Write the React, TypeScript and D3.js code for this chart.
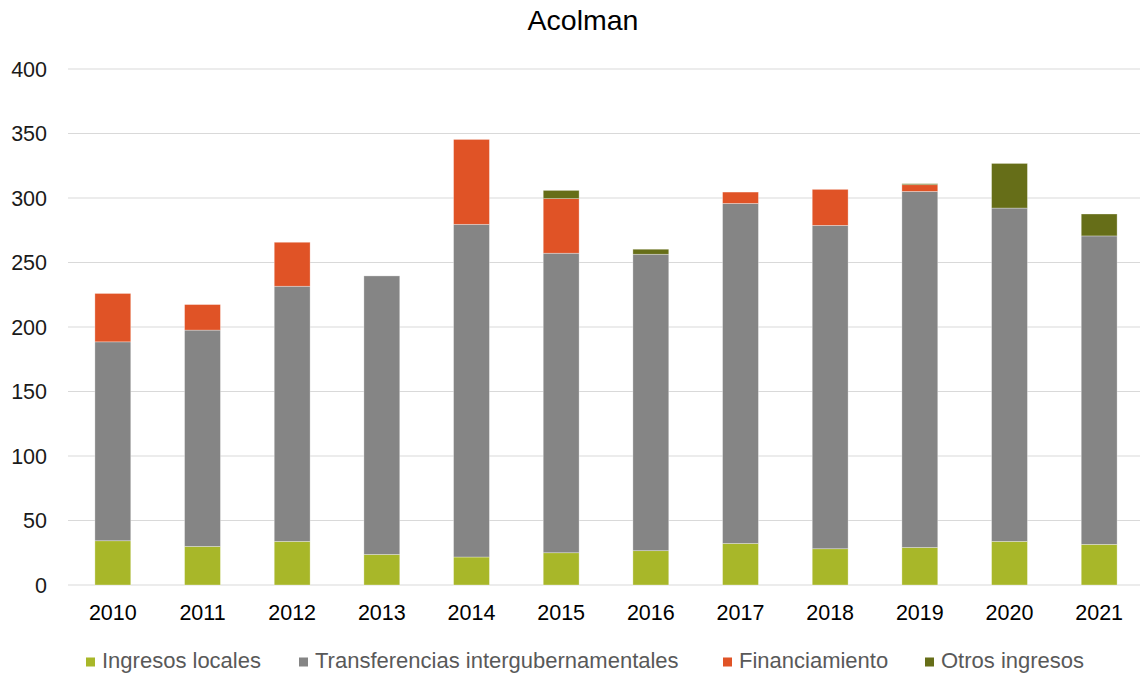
import React from "react";
import * as d3 from "d3";

const years = ["2010","2011","2012","2013","2014","2015","2016","2017","2018","2019","2020","2021"];
const ingresosLocales = [34.3, 29.9, 33.8, 23.7, 21.7, 25.0, 26.6, 32.2, 28.1, 29.1, 33.8, 31.5];
const transferencias = [154.2, 167.7, 197.8, 215.9, 257.9, 232.2, 229.8, 263.6, 250.7, 276.0, 258.4, 239.1];
const financiamiento = [37.5, 19.8, 34.1, 0, 65.8, 42.3, 0, 8.8, 27.9, 5.2, 0, 0];
const otrosIngresos = [0, 0, 0, 0, 0, 6.4, 3.9, 0, 0, 0.8, 34.6, 17.0];
const yTicks = [0, 50, 100, 150, 200, 250, 300, 350, 400];

const seriesNames = ["Ingresos locales", "Transferencias intergubernamentales", "Financiamiento", "Otros ingresos"];
const seriesColors = ["#A8B729", "#858585", "#E05326", "#666E18"];
const legendX = [86, 299, 723, 925];

export default function App() {
  const W = 1140, H = 675;
  const left = 68, right = 1144, top = 69, bottom = 585;
  const x = d3.scaleBand<string>().domain(years).range([left, right]).paddingInner(0.6).paddingOuter(0.3);
  const y = d3.scaleLinear().domain([0, 400]).range([bottom, top]);
  const rows = years.map((yr, i) => ({
    year: yr,
    s0: ingresosLocales[i],
    s1: transferencias[i],
    s2: financiamiento[i],
    s3: otrosIngresos[i],
  }));
  const stack = d3.stack<any>().keys(["s0", "s1", "s2", "s3"]);
  const stacked = stack(rows);
  const font = "Liberation Sans, Arial, sans-serif";
  return (
    <svg width={W} height={H} style={{ position: "absolute", left: 0, top: 0, background: "#fff" }} fontFamily={font}>
      <text x={583} y={30} textAnchor="middle" fontSize={28.5} fill="#000">Acolman</text>
      {yTicks.map((t) => (
        <g key={t}>
          <line x1={left} x2={right} y1={y(t)} y2={y(t)} stroke="#d9d9d9" strokeWidth={1.2} />
          <text x={47} y={y(t)} dy="0.35em" textAnchor="end" fontSize={21.5} fill="#1a1a1a">{t}</text>
        </g>
      ))}
      {stacked.map((layer, si) => (
        <g key={si} fill={seriesColors[si]}>
          {layer.map((d, i) => {
            const h = y(d[0]) - y(d[1]);
            if (h <= 0) return null;
            return (
              <rect key={i} x={x(years[i])} y={y(d[1])} width={x.bandwidth()} height={h}
                stroke="#ffffff" strokeOpacity={0.45} strokeWidth={0.7} />
            );
          })}
        </g>
      ))}
      {years.map((yr) => (
        <text key={yr} x={(x(yr) as number) + x.bandwidth() / 2} y={620} textAnchor="middle" fontSize={21.5} fill="#000">{yr}</text>
      ))}
      {seriesNames.map((n, i) => (
        <g key={n}>
          <rect x={legendX[i]} y={657.5} width={9} height={9} fill={seriesColors[i]} />
          <text x={legendX[i] + 16} y={667.5} fontSize={22} fill="#595959">{n}</text>
        </g>
      ))}
    </svg>
  );
}
